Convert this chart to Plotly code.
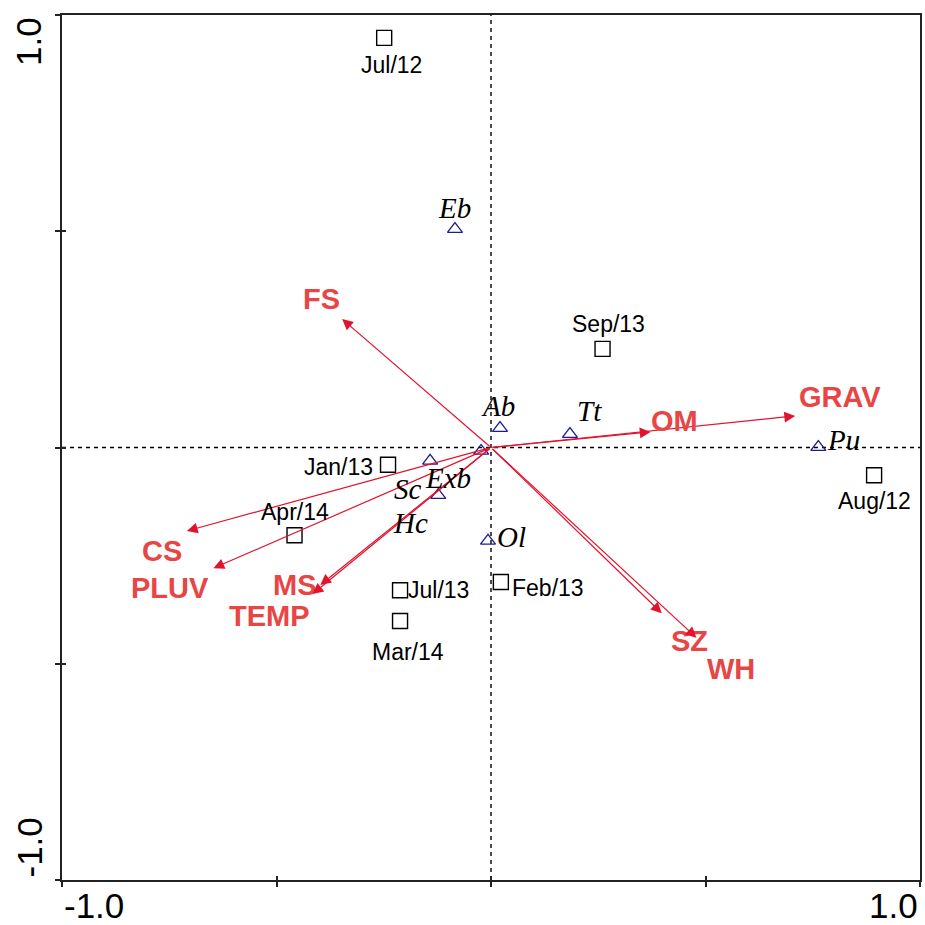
import plotly.graph_objects as go

# --- Sample scores (sampling months) ---
sample_names = ["Jul/12", "Sep/13", "Jan/13", "Apr/14", "Aug/12", "Jul/13", "Mar/14", "Feb/13"]
sample_x = [-0.249, 0.260, -0.240, -0.458, 0.893, -0.212, -0.212, 0.023]
sample_y = [0.947, 0.228, -0.040, -0.203, -0.064, -0.330, -0.401, -0.311]

# --- Species scores ---
species_names = ["Eb", "Ab", "Tt", "Pu", "Ol", "Sc", "Hc", "Exb"]
species_x = [-0.084, 0.021, 0.184, 0.763, -0.007, -0.142, -0.123, -0.023]
species_y = [0.505, 0.045, 0.031, 0.001, -0.216, -0.031, -0.110, -0.008]

# --- Environmental variable vectors ---
env_names = ["FS", "GRAV", "OM", "CS", "PLUV", "MS", "TEMP", "SZ", "WH"]
env_x = [-0.347, 0.709, 0.372, -0.709, -0.647, -0.398, -0.416, 0.398, 0.479]
env_y = [0.297, 0.073, 0.036, -0.193, -0.279, -0.318, -0.339, -0.383, -0.440]

# label placement relative to the marker (pixels; x right, y up)
sample_shift = {
    "Jul/12": (7, -27), "Sep/13": (6, 25), "Jan/13": (-50, -2), "Apr/14": (0, 23),
    "Aug/12": (0, -26), "Jul/13": (38, 0), "Mar/14": (8, -31), "Feb/13": (47, -6),
}
species_shift = {
    "Eb": (0, 21), "Ab": (-2, 22), "Tt": (20, 23), "Pu": (25, 7), "Ol": (23, 4),
    "Sc": (-22, -28), "Hc": (-28, -28), "Exb": (-33, -27),
}
env_shift = {
    "FS": (-21, 20), "GRAV": (45, 19), "OM": (24, 11), "CS": (-25, -20),
    "PLUV": (-43, -20), "MS": (-25, 0), "TEMP": (-43, -22), "SZ": (28, -28),
    "WH": (35, -31),
}

ARROW = "#e3122d"
ENVTXT = "#e84545"
SPC = "#1c1c8f"

fig = go.Figure()

fig.add_trace(go.Scatter(
    x=sample_x, y=sample_y, mode="markers",
    marker=dict(symbol="square-open", size=15, color="black", line=dict(width=1.4)),
    hoverinfo="text", text=sample_names, showlegend=False,
))
fig.add_trace(go.Scatter(
    x=species_x, y=species_y, mode="markers",
    marker=dict(symbol="triangle-up-open", size=13, color=SPC, line=dict(width=1.3)),
    hoverinfo="text", text=species_names, showlegend=False,
))

annotations = []
for n, x, y in zip(env_names, env_x, env_y):
    annotations.append(dict(
        x=x, y=y, ax=0, ay=0, xref="x", yref="y", axref="x", ayref="y",
        text="", showarrow=True, arrowhead=2, arrowsize=1.8, arrowwidth=1.2,
        arrowcolor=ARROW, standoff=0,
    ))
    dx, dy = env_shift[n]
    annotations.append(dict(
        x=x, y=y, xref="x", yref="y", text=n, showarrow=False,
        xshift=dx, yshift=dy,
        font=dict(family="Liberation Sans", size=29, color=ENVTXT, weight="bold"),
    ))

for n, x, y in zip(sample_names, sample_x, sample_y):
    dx, dy = sample_shift[n]
    annotations.append(dict(
        x=x, y=y, xref="x", yref="y", text=n, showarrow=False,
        xshift=dx, yshift=dy,
        font=dict(family="Liberation Sans", size=23, color="black"),
    ))

for n, x, y in zip(species_names, species_x, species_y):
    dx, dy = species_shift[n]
    annotations.append(dict(
        x=x, y=y, xref="x", yref="y", text=n, showarrow=False,
        xshift=dx, yshift=dy,
        font=dict(family="Liberation Serif", size=29, color="black", style="italic"),
    ))

# axis end labels
TICKFONT = dict(family="Liberation Sans", size=35, color="black")
annotations += [
    dict(x=-1, y=0, xref="x", yref="paper", yanchor="top", xanchor="left",
         text="-1.0", showarrow=False, yshift=-4, font=TICKFONT),
    dict(x=1, y=0, xref="x", yref="paper", yanchor="top", xanchor="right",
         text="1.0", showarrow=False, yshift=-4, font=TICKFONT),
    dict(x=0, y=1, xref="paper", yref="y", xanchor="right", yanchor="top",
         text="1.0", showarrow=False, textangle=-90, xshift=-12, font=TICKFONT),
    dict(x=0, y=-1, xref="paper", yref="y", xanchor="right", yanchor="bottom",
         text="-1.0", showarrow=False, textangle=-90, xshift=-12, font=TICKFONT),
]

# dashed origin cross-hairs
DASH = dict(color="black", width=1.4, dash="4px,4px")
shapes = [
    dict(type="line", xref="x", yref="y", x0=0, x1=0, y0=-1, y1=1, line=DASH, layer="below"),
    dict(type="line", xref="x", yref="y", x0=-1, x1=1, y0=0, y1=0, line=DASH, layer="below"),
]

axis_common = dict(
    range=[-1, 1], showgrid=False, zeroline=False, showticklabels=False,
    showline=True, linecolor="#222", linewidth=2, mirror=True,
    tickmode="array", tickvals=[-1, -0.5, 0, 0.5, 1],
    ticks="outside", ticklen=5, tickwidth=1.5, tickcolor="#222",
)
inner_ticks = dict(
    range=[-1, 1], showgrid=False, zeroline=False, showticklabels=False,
    showline=False, tickmode="array", tickvals=[-1, -0.5, 0, 0.5, 1],
    ticks="inside", ticklen=4, tickwidth=1.5, tickcolor="#222",
)

fig.update_layout(
    width=925, height=925,
    margin=dict(l=62, r=3, t=15, b=45),
    paper_bgcolor="white", plot_bgcolor="white",
    xaxis=axis_common,
    yaxis=axis_common,
    xaxis2=dict(inner_ticks, overlaying="x", side="bottom", matches="x"),
    yaxis2=dict(inner_ticks, overlaying="y", side="left", matches="y"),
    annotations=annotations, shapes=shapes,
)
# empty trace to activate the secondary tick axes
fig.add_trace(go.Scatter(x=[], y=[], xaxis="x2", yaxis="y2", showlegend=False))

fig.write_html("out.html")
